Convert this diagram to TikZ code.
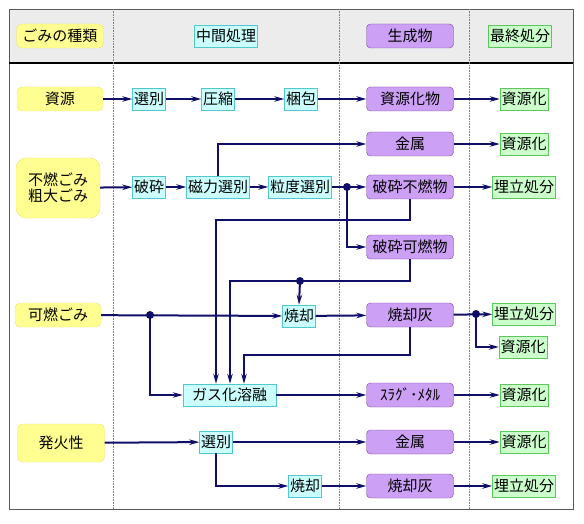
\documentclass[tikz,border=0pt]{standalone}
\usepackage{fontspec}
\setmainfont{Noto Sans CJK JP}
\usetikzlibrary{arrows.meta, positioning, calc}

\definecolor{srcfill}{RGB}{255,255,145}
\definecolor{srcline}{RGB}{235,225,110}
\definecolor{procfill}{RGB}{204,255,255}
\definecolor{procline}{RGB}{80,200,210}
\definecolor{prodfill}{RGB}{204,160,245}
\definecolor{prodline}{RGB}{120,70,150}
\definecolor{finfill}{RGB}{204,255,204}
\definecolor{finline}{RGB}{90,200,90}
\definecolor{flowc}{RGB}{15,15,105}
\definecolor{headfill}{RGB}{236,236,236}

\tikzset{
	src/.style={draw=srcline, fill=srcfill, rounded corners=5pt, minimum width=86pt, minimum height=24pt, align=center},
	proc/.style={draw=procline, fill=procfill, inner xsep=1.5pt, inner ysep=1pt, minimum height=22pt},
	prod/.style={draw=prodline, fill=prodfill, rounded corners=4pt, minimum width=87pt, minimum height=24pt},
	fin/.style={draw=finline, fill=finfill, inner xsep=1.5pt, inner ysep=1pt, minimum height=22pt},
	flow/.style={draw=flowc, line width=2pt, -{Stealth[length=10pt,width=5.5pt]}},
	pt/.style={circle, fill=flowc, inner sep=0pt, minimum size=8pt},
}

\begin{document}
\begin{tikzpicture}[x=1pt, y=-1pt, font=\fontsize{15}{17}\selectfont]
	\useasboundingbox (0,0) rectangle (584,524);
	% frame and header band
	\fill[headfill] (9,9) rectangle (573,63);
	\draw[gray!70!black, line width=0.8pt] (9,9) rectangle (573,509);
	\draw[line width=1.2pt] (9,63) -- (573,63);
	\foreach \x in {113,339,469}
		\draw[gray, densely dotted, line width=0.6pt] (\x,9) -- (\x,509);

	% header
	\node[src, minimum width=87pt] (hkind) at (60,36) {ごみの種類};
	\node[proc] (hmid) at (226,36) {中間処理};
	\node[prod] (hprod) at (410,36) {生成物};
	\node[fin] (hfin) at (520,36) {最終処分};

	% 資源
	\node[src] (shigen) at (60,99) {資源};
	\node[proc] (sen1) at (149,99) {選別};
	\node[proc] (assh) at (218,99) {圧縮};
	\node[proc] (konpo) at (301,99) {梱包};
	\node[prod] (shigenbutsu) at (410,99) {資源化物};
	\node[fin] (r1) at (524,99) {資源化};

	% 不燃ごみ・粗大ごみ
	\node[prod] (kin1) at (410,144) {金属};
	\node[fin] (r2) at (524,144) {資源化};
	\node[src, minimum width=84pt, minimum height=60pt, rounded corners=10pt] (funen) at (58,188) {不燃ごみ\\[-1pt]粗大ごみ};
	\node[proc] (hasai) at (149,187) {破砕};
	\node[proc] (jiryoku) at (218,187) {磁力選別};
	\node[proc] (ryudo) at (300,187) {粒度選別};
	\node[pt] (d1) at (347,187) {};
	\node[prod] (funenbutsu) at (410,187) {破砕不燃物};
	\node[fin] (u1) at (524,187) {埋立処分};
	\node[prod] (kanenbutsu) at (410,247) {破砕可燃物};

	% 可燃ごみ
	\node[src] (kanen) at (58,315) {可燃ごみ};
	\node[pt] (d2) at (150,315) {};
	\node[proc] (shok1) at (299,316) {焼却};
	\node[prod] (hai1) at (410,315) {焼却灰};
	\node[pt] (d4) at (476,314) {};
	\node[fin] (u2) at (524,314) {埋立処分};
	\node[fin] (r3) at (523,347) {資源化};
	\node[proc, minimum width=93pt] (gas) at (229.5,395) {ガス化溶融};
	\node[prod] (slag) at (410,395) {ｽﾗｸﾞ･ﾒﾀﾙ};
	\node[fin] (r4) at (524,395) {資源化};

	% 発火性
	\node[src, minimum width=87pt, minimum height=38pt] (hakka) at (61,443) {発火性};
	\node[proc] (sen2) at (216,442) {選別};
	\node[prod] (kin2) at (410,442) {金属};
	\node[fin] (r5) at (524,442) {資源化};
	\node[proc] (shok2) at (305,486) {焼却};
	\node[prod] (hai2) at (410,486) {焼却灰};
	\node[fin] (u3) at (524,486) {埋立処分};

	\node[pt] (d3) at (300,281) {};
	\coordinate (g1) at (216,220);
	\coordinate (g2) at (230,281);
	\coordinate (g3) at (244,355);

	% straight flows
	\foreach \from/\to in {shigen/sen1, sen1/assh, assh/konpo, konpo/shigenbutsu, shigenbutsu/r1,
		kin1/r2, funen/hasai, hasai/jiryoku, jiryoku/ryudo, ryudo/funenbutsu, funenbutsu/u1,
		kanen/shok1, shok1/hai1, hai1/u2, gas/slag, slag/r4,
		hakka/sen2, sen2/kin2, kin2/r5, shok2/hai2, hai2/u3}
		\draw[flow] (\from) -- (\to);

	% branches
	\draw[flow] (jiryoku.north) |- (kin1);
	\draw[flow] (d1.center) |- (kanenbutsu);
	\draw[flow] (funenbutsu.south) |- (g1) -- (g1 |- gas.north);
	\draw[flow] (kanenbutsu.south) |- (g2) -- (g2 |- gas.north);
	\draw[flow] (d3.center) -- (shok1.north);
	\draw[flow] (hai1.south) |- (g3) -- (g3 |- gas.north);
	\draw[flow] (d2.center) |- (gas);
	\draw[flow] (d4.center) |- (r3);
	\draw[flow] (sen2.south) |- (shok2);
\end{tikzpicture}
\end{document}
